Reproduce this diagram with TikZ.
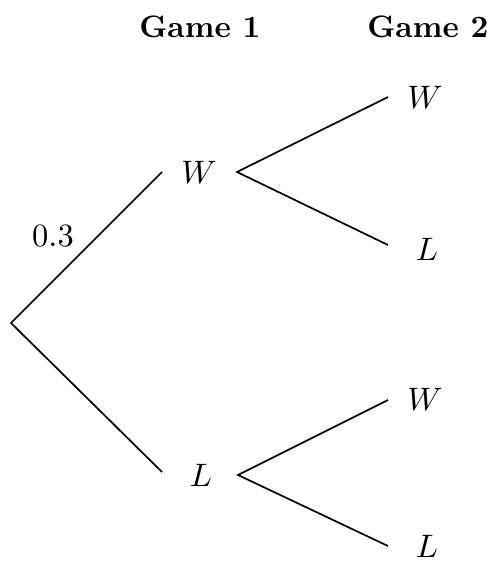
\documentclass[tikz,border=0pt]{standalone}
\begin{document}
\begin{tikzpicture}[x=1pt,y=-1pt,
  branch/.style={line width=1.7pt},
  lab/.style={inner sep=0pt,scale=3.25},
  head/.style={inner sep=0pt,scale=3.1,font=\bfseries}]
\useasboundingbox (0,0) rectangle (489,564);
\node[head] (g1) at (200,27) {Game 1};
\node[head] (g2) at (428,27) {Game 2};
\coordinate (root) at (11,323);
\coordinate (a1) at (162,172);
\coordinate (a2) at (162,472);
\node[lab] (w1) at (199,172) {$W$};
\node[lab] (l1) at (201,475) {$L$};
\coordinate (b1) at (237,172);
\coordinate (b2) at (238,475);
\coordinate (c1) at (388,97);
\coordinate (c2) at (388,245);
\coordinate (c3) at (388,400);
\coordinate (c4) at (388,546);
\node[lab] (ww) at (425,97) {$W$};
\node[lab] (wl) at (427,249) {$L$};
\node[lab] (lw) at (425,399) {$W$};
\node[lab] (ll) at (427,546) {$L$};
\node[lab] (p) at (53,236) {$0.3$};
\draw[branch] (a1) -- (root) -- (a2);
\draw[branch] (c1) -- (b1) -- (c2);
\draw[branch] (c3) -- (b2) -- (c4);
\end{tikzpicture}
\end{document}
